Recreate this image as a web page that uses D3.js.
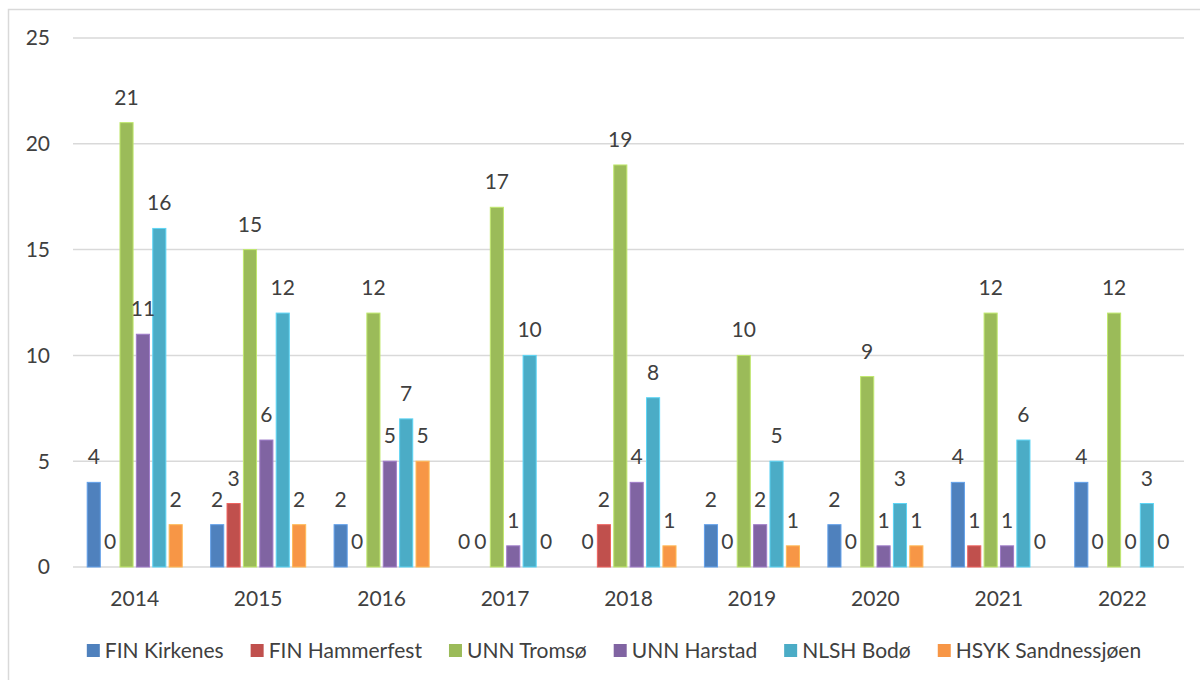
<!DOCTYPE html>
<html>
<head>
<meta charset="utf-8">
<script src="https://cdn.jsdelivr.net/npm/d3@7"></script>
<style>
  body { margin: 0; background: #fff; }
  text { font-family: Lato, "Open Sans", sans-serif; fill: #404040; }
</style>
</head>
<body>
<script>
// chart data
var years = ['2014', '2015', '2016', '2017', '2018', '2019', '2020', '2021', '2022'];
var seriesNames = ['FIN Kirkenes', 'FIN Hammerfest', 'UNN Tromsø', 'UNN Harstad', 'NLSH Bodø', 'HSYK Sandnessjøen'];
var kirkenes     = [4, 2, 2, 0, 0, 2, 2, 4, 4];
var hammerfest   = [0, 3, 0, 0, 2, 0, 0, 1, 0];
var tromso       = [21, 15, 12, 17, 19, 10, 9, 12, 12];
var harstad      = [11, 6, 5, 1, 4, 2, 1, 1, 0];
var bodo         = [16, 12, 7, 10, 8, 5, 3, 6, 3];
var sandnessjoen = [2, 2, 5, 0, 1, 1, 1, 0, 0];
var yTicks = [0, 5, 10, 15, 20, 25];
var colors = ['#4f81bd', '#c0504d', '#9bbb59', '#8064a2', '#4bacc6', '#f79646'];

var allSeries = [kirkenes, hammerfest, tromso, harstad, bodo, sandnessjoen];

var width = 1200;
var height = 680;
var fontSize = '21px';
var plot = { left: 73, right: 1184, top: 38, bottom: 567 };

var svg = d3.select('body').append('svg')
  .attr('width', width)
  .attr('height', height);

// outer frame
svg.append('rect')
  .attr('x', 8.5).attr('y', 9.5)
  .attr('width', 1200).attr('height', 700)
  .attr('fill', 'none')
  .attr('stroke', '#d9d9d9')
  .attr('stroke-width', 1.5);

var x0 = d3.scaleBand().domain(years)
  .range([plot.left, plot.right])
  .paddingInner(0.23).paddingOuter(0.115);

var x1 = d3.scaleBand().domain(d3.range(seriesNames.length))
  .range([0, x0.bandwidth()])
  .paddingInner(0.2);

var y = d3.scaleLinear().domain([0, 25]).range([plot.bottom, plot.top]);

// gridlines
svg.append('g').selectAll('line').data(yTicks)
  .enter().append('line')
  .attr('x1', plot.left).attr('x2', plot.right)
  .attr('y1', function(d) { return y(d); })
  .attr('y2', function(d) { return y(d); })
  .attr('stroke', '#d9d9d9')
  .attr('stroke-width', 1.5);

// y tick labels
svg.append('g').selectAll('text').data(yTicks)
  .enter().append('text')
  .attr('x', 50)
  .attr('y', function(d) { return y(d); })
  .attr('dy', '0.35em')
  .attr('text-anchor', 'end')
  .style('font-size', fontSize)
  .text(function(d) { return d; });

// x labels
svg.append('g').selectAll('text').data(years)
  .enter().append('text')
  .attr('x', function(d) { return x0(d) + x0.bandwidth() / 2; })
  .attr('y', 606)
  .attr('text-anchor', 'middle')
  .style('font-size', fontSize)
  .text(function(d) { return d; });

// bars + labels per year
var groups = svg.append('g').selectAll('g').data(years)
  .enter().append('g')
  .attr('transform', function(d) { return 'translate(' + x0(d) + ',0)'; });

function cells(yr, i) {
  return allSeries.map(function(s, k) { return { k: k, v: s[i] }; });
}

groups.selectAll('rect').data(cells)
  .enter().append('rect')
  .filter(function(d) { return d.v > 0; })
  .attr('x', function(d) { return x1(d.k); })
  .attr('y', function(d) { return y(d.v); })
  .attr('width', x1.bandwidth())
  .attr('height', function(d) { return y(0) - y(d.v); })
  .attr('fill', function(d) { return colors[d.k]; })
  .attr('stroke', function(d) { return d3.color(colors[d.k]).brighter(0.6); })
  .attr('stroke-width', 1);

groups.selectAll('text').data(cells)
  .enter().append('text')
  .attr('x', function(d) { return x1(d.k) + x1.bandwidth() / 2; })
  .attr('y', function(d) { return y(d.v) - 18; })
  .attr('text-anchor', 'middle')
  .style('font-size', fontSize)
  .text(function(d) { return d.v; });

// legend
var legend = svg.append('g');
var items = legend.selectAll('g').data(seriesNames)
  .enter().append('g');
items.append('rect')
  .attr('width', 13).attr('height', 13)
  .attr('y', -14)
  .attr('fill', function(d, i) { return colors[i]; });
items.append('text')
  .attr('x', 18)
  .attr('y', 0)
  .style('font-size', fontSize)
  .text(function(d) { return d; });

var offset = 0;
var gap = 27;
items.each(function() {
  var w = 18 + d3.select(this).select('text').node().getComputedTextLength();
  d3.select(this).attr('transform', 'translate(' + offset + ',0)');
  offset += w + gap;
});
var total = offset - gap;
legend.attr('transform', 'translate(' + (614 - total / 2) + ',658)');
</script>
</body>
</html>
